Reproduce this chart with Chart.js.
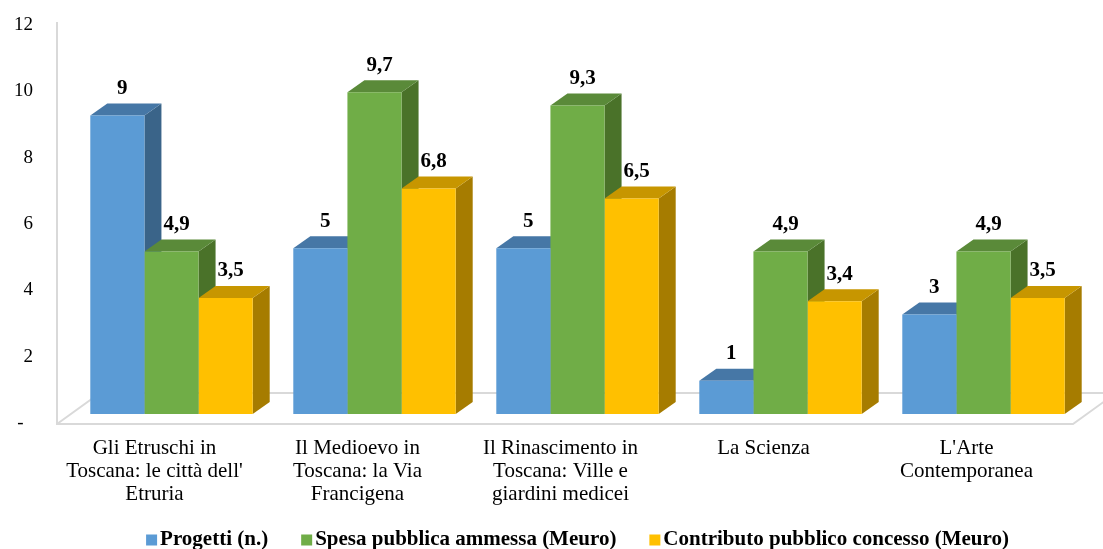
<!DOCTYPE html>
<html>
<head>
<meta charset="utf-8">
<script src="https://cdn.jsdelivr.net/npm/chart.js@4.4.1/dist/chart.umd.min.js"></script>
<style>
  html, body { margin: 0; padding: 0; background: #fff; }
  #wrap { width: 1103px; height: 549px; }
</style>
</head>
<body>
<div id="wrap"><canvas id="chart"></canvas></div>
<script>
const categories = [
    ['Gli Etruschi in', "Toscana: le città dell'", 'Etruria'],
    ['Il Medioevo in', 'Toscana: la Via', 'Francigena'],
    ['Il Rinascimento in', 'Toscana: Ville e', 'giardini medicei'],
    'La Scienza',
    ["L'Arte", 'Contemporanea']
];
const seriesNames = ['Progetti (n.)', 'Spesa pubblica ammessa (Meuro)', 'Contributo pubblico concesso (Meuro)'];
const progetti = [9, 5, 5, 1, 3];
const spesa = [4.9, 9.7, 9.3, 4.9, 4.9];
const contributo = [3.5, 6.8, 6.5, 3.4, 3.5];
const yTicks = [0, 2, 4, 6, 8, 10, 12];

const frontColors = ['#5b9bd5', '#70ad47', '#ffc000'];
const topColors = ['#4677a6', '#5a8a39', '#c79600'];
const sideColors = ['#3a6489', '#4a7229', '#a67c00'];

const FONT = '"Liberation Serif", "Times New Roman", serif';
const DX = 17, DY = 12;

// draws the floor, the back wall line and the top/side faces of the bars
const bars3d = {
    id: 'bars3d',
    beforeDatasetsDraw(chart) {
        const ctx = chart.ctx;
        const area = chart.chartArea;
        const base = chart.scales.y.getPixelForValue(0);
        ctx.save();
        ctx.strokeStyle = '#d9d9d9';
        ctx.lineWidth = 2;
        ctx.beginPath();
        ctx.moveTo(area.left - 13, area.top + 6);
        ctx.lineTo(area.left - 13, base + 10);
        ctx.lineTo(area.right - 12, base + 10);
        ctx.lineTo(area.right + 31, base - 21);
        ctx.moveTo(area.left - 13, base + 10);
        ctx.lineTo(area.left + 30, base - 21);
        ctx.lineTo(area.right + 31, base - 21);
        ctx.stroke();

        for (let i = 0; i < categories.length; i++) {
            chart.data.datasets.forEach((ds, d) => {
                const bar = chart.getDatasetMeta(d).data[i];
                const p = bar.getProps(['x', 'y', 'base', 'width'], true);
                const l = p.x - p.width / 2, r = p.x + p.width / 2;
                ctx.fillStyle = sideColors[d];
                ctx.beginPath();
                ctx.moveTo(r, p.y);
                ctx.lineTo(r + DX, p.y - DY);
                ctx.lineTo(r + DX, p.base - DY);
                ctx.lineTo(r, p.base);
                ctx.closePath();
                ctx.fill();
                ctx.fillStyle = topColors[d];
                ctx.beginPath();
                ctx.moveTo(l, p.y);
                ctx.lineTo(l + DX, p.y - DY);
                ctx.lineTo(r + DX, p.y - DY);
                ctx.lineTo(r, p.y);
                ctx.closePath();
                ctx.fill();
            });
        }
        ctx.restore();
    },
    afterDatasetsDraw(chart) {
        const ctx = chart.ctx;
        ctx.save();
        ctx.font = 'bold 21px ' + FONT;
        ctx.fillStyle = '#000';
        ctx.textAlign = 'center';
        ctx.textBaseline = 'middle';
        chart.data.datasets.forEach((ds, d) => {
            chart.getDatasetMeta(d).data.forEach((bar, i) => {
                const txt = String(ds.data[i]).replace('.', ',');
                ctx.fillText(txt, bar.x + 5, bar.y - 27);
            });
        });
        ctx.restore();
    },
    afterDraw(chart) {
        // legend
        const ctx = chart.ctx;
        const area = chart.chartArea;
        ctx.save();
        ctx.font = 'bold 21px ' + FONT;
        ctx.textBaseline = 'middle';
        const box = 11, gap = 3, space = 33;
        const widths = seriesNames.map(s => ctx.measureText(s).width);
        let total = widths.reduce((a, b) => a + b, 0) + seriesNames.length * (box + gap) + (seriesNames.length - 1) * space;
        let x = (area.left + area.right) / 2 - total / 2;
        const y = 540;
        seriesNames.forEach((s, d) => {
            ctx.fillStyle = frontColors[d];
            ctx.fillRect(x, y - box / 2, box, box);
            x += box + gap;
            ctx.fillStyle = '#000';
            ctx.fillText(s, x, y);
            x += widths[d] + space;
        });
        ctx.restore();
    }
};

const chartElement = document.getElementById('chart').getContext('2d');
const chart = new Chart(chartElement, {
    type: 'bar',
    data: {
        labels: categories,
        datasets: [
            { label: seriesNames[0], data: progetti, backgroundColor: frontColors[0] },
            { label: seriesNames[1], data: spesa, backgroundColor: frontColors[1] },
            { label: seriesNames[2], data: contributo, backgroundColor: frontColors[2] }
        ]
    },
    options: {
        responsive: true,
        maintainAspectRatio: false,
        animation: false,
        datasets: {
            bar: { categoryPercentage: 0.8, barPercentage: 1.0, borderWidth: 0, clip: false }
        },
        layout: { padding: { left: 0, right: 18, top: 16, bottom: 35 } },
        scales: {
            x: {
                grid: { display: false, drawTicks: false },
                border: { display: false },
                ticks: {
                    color: '#000',
                    font: { family: FONT, size: 21, lineHeight: 1.1 },
                    padding: 23,
                    labelOffset: -17,
                    maxRotation: 0,
                    autoSkip: false
                },
                afterFit: s => { s.height = 100; }
            },
            y: {
                min: 0,
                max: 12,
                grid: { display: false, drawTicks: false },
                border: { display: false },
                afterBuildTicks: s => { s.ticks = yTicks.map(v => ({ value: v })); },
                ticks: {
                    color: '#000',
                    font: { family: FONT, size: 19 },
                    padding: 37,
                    labelOffset: 9,
                    callback: v => v === 0 ? '-  ' : v
                },
                afterFit: s => { s.width = 70; s.paddingTop = 0; s.paddingBottom = 0; }
            }
        },
        plugins: {
            legend: { display: false },
            tooltip: { enabled: false }
        }
    },
    plugins: [bars3d]
});
</script>
</body>
</html>
